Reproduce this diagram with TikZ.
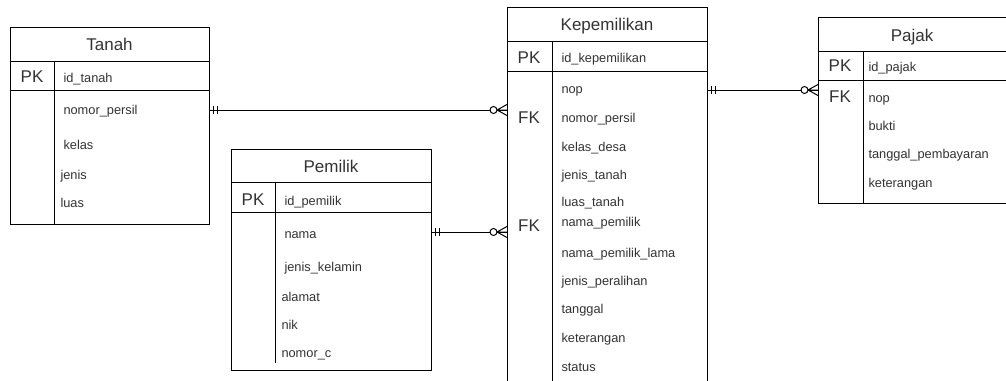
\documentclass[tikz,border=0pt]{standalone}
\usepackage{fontspec}
\setmainfont{Liberation Sans}
\begin{document}
\begin{tikzpicture}[x=1pt,y=-1pt,
  line width=1pt,
  entity/.style={draw=black, inner sep=0pt, anchor=north west},
  title/.style={font=\fontsize{17}{20}\selectfont, text=black!80, text height=15pt, text depth=3.5pt, inner sep=0pt},
  keylbl/.style={font=\fontsize{17}{20}\selectfont, text=black!80, text height=15pt, text depth=3.5pt, inner sep=0pt},
  field/.style={font=\fontsize{12.8}{15}\selectfont, text=black!80, text height=12pt, text depth=3pt, inner sep=0pt, anchor=west},
  rule/.style={draw=black, line width=1pt},
  connector/.style={draw=black, line width=1pt},
  crowzero/.pic={
    % zero-or-many end: ring followed by a three-prong foot ending at the origin
    \draw[line width=1pt, fill=white] (-13.5,0) circle (3.5);
    \draw[line width=1pt] (-10,0) -- (0,-5.5) (-10,0) -- (0,0) (-10,0) -- (0,5.5);
  },
  onlyone/.pic={
    % exactly-one end: two bars just off the entity border
    \draw[line width=1pt] (3,-4) -- (3,4) (7,-4) -- (7,4);
  }
]
\useasboundingbox (0,0) rectangle (1006,380);
\clip (0,0) rectangle (1006,380);
\fill[white] (0,0) rectangle (1006,380);

% ---------------- Tanah ----------------
\node[entity, minimum width=199pt, minimum height=197pt] (tanah) at (10,27) {};
\draw[rule] (tanah.west |- 0,61) -- (tanah.east |- 0,61);
\draw[rule] (tanah.west |- 0,90) -- (tanah.east |- 0,90);
\draw[rule] (54,61) -- (54,224);
\node[title] (tanahT) at (109.5,45) {Tanah};
\node[keylbl] (tanahPK) at (32,77) {PK};
\node[field] (tId) at (63,78) {id\_tanah};
\node[field] (tNomor) at (63,110) {nomor\_persil};
\node[field] (tKelas) at (63,145) {kelas};
\node[field] (tJenis) at (60,175) {jenis};
\node[field] (tLuas) at (60,203) {luas};

% ---------------- Pemilik ----------------
\node[entity, minimum width=200pt, minimum height=221pt] (pemilik) at (231,149) {};
\draw[rule] (pemilik.west |- 0,182) -- (pemilik.east |- 0,182);
\draw[rule] (pemilik.west |- 0,212) -- (pemilik.east |- 0,212);
\draw[rule] (275,182) -- (275,363);
\node[title] (pemilikT) at (331,167) {Pemilik};
\node[keylbl] (pemilikPK) at (253,200) {PK};
\node[field] (pId) at (284,201) {id\_pemilik};
\node[field] (pNama) at (284,234) {nama};
\node[field] (pJk) at (284,267) {jenis\_kelamin};
\node[field] (pAlamat) at (281,297) {alamat};
\node[field] (pNik) at (281,325) {nik};
\node[field] (pNomorC) at (281,353) {nomor\_c};

% ---------------- Kepemilikan ----------------
\node[entity, minimum width=200pt, minimum height=400pt] (kep) at (507,7) {};
\draw[rule] (kep.west |- 0,41) -- (kep.east |- 0,41);
\draw[rule] (kep.west |- 0,71) -- (kep.east |- 0,71);
\draw[rule] (552,41) -- (552,400);
\node[title] (kepT) at (607,25) {Kepemilikan};
\node[keylbl] (kepPK) at (529,58) {PK};
\node[keylbl] (kepFK1) at (529,118) {FK};
\node[keylbl] (kepFK2) at (529,226) {FK};
\node[field] (kId) at (561,58) {id\_kepemilikan};
\node[field] (kNop) at (561,89) {nop};
\node[field] (kNomor) at (561,118) {nomor\_persil};
\node[field] (kKelas) at (561,147) {kelas\_desa};
\node[field] (kJenis) at (561,175) {jenis\_tanah};
\node[field] (kLuas) at (561,202) {luas\_tanah};
\node[field] (kNama) at (561,222) {nama\_pemilik};
\node[field] (kNamaLama) at (561,253) {nama\_pemilik\_lama};
\node[field] (kPeralihan) at (561,281) {jenis\_peralihan};
\node[field] (kTanggal) at (561,309) {tanggal};
\node[field] (kKet) at (561,338) {keterangan};
\node[field] (kStatus) at (561,367) {status};

% ---------------- Pajak ----------------
\node[entity, minimum width=210pt, minimum height=186pt] (pajak) at (818,17) {};
\draw[rule] (pajak.west |- 0,51) -- (pajak.east |- 0,51);
\draw[rule] (pajak.west |- 0,80) -- (pajak.east |- 0,80);
\draw[rule] (863,51) -- (863,203);
\node[title] (pajakT) at (912,36) {Pajak};
\node[keylbl] (pajakPK) at (840,66) {PK};
\node[keylbl] (pajakFK) at (840,97) {FK};
\node[field] (jId) at (868,67) {id\_pajak};
\node[field] (jNop) at (868,98) {nop};
\node[field] (jBukti) at (868,126) {bukti};
\node[field] (jTgl) at (868,154) {tanggal\_pembayaran};
\node[field] (jKet) at (868,183) {keterangan};

% ---------------- Relationships ----------------
\coordinate (r1) at (0,110);
\coordinate (r2) at (0,232);
\coordinate (r3) at (0,90);

\draw[connector] (tanah.east |- r1) -- (kep.west |- r1);
\pic at (tanah.east |- r1) {onlyone};
\pic at (kep.west |- r1) {crowzero};

\draw[connector] (pemilik.east |- r2) -- (kep.west |- r2);
\pic at (pemilik.east |- r2) {onlyone};
\pic at (kep.west |- r2) {crowzero};

\draw[connector] (kep.east |- r3) -- (pajak.west |- r3);
\pic at (kep.east |- r3) {onlyone};
\pic at (pajak.west |- r3) {crowzero};
\end{tikzpicture}
\end{document}
